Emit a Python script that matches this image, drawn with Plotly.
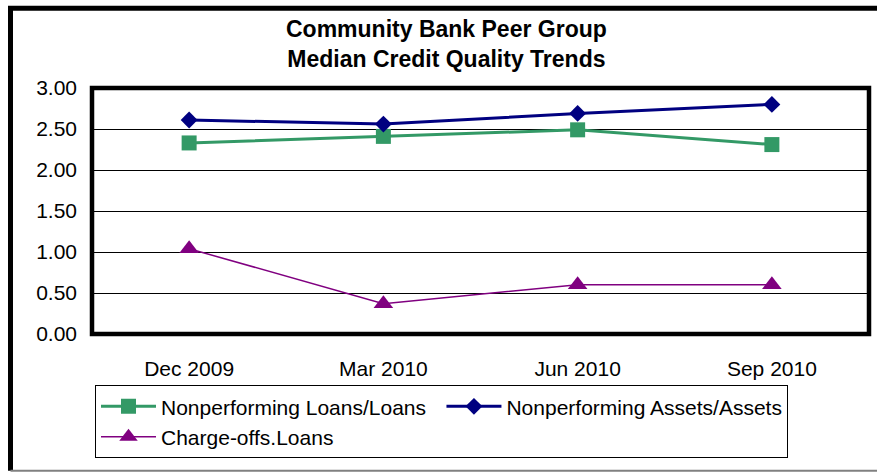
import plotly.graph_objects as go

categories = ["Dec 2009", "Mar 2010", "Jun 2010", "Sep 2010"]
npl_loans = [2.33, 2.41, 2.49, 2.31]
npa_assets = [2.61, 2.56, 2.69, 2.80]
chargeoffs = [1.04, 0.37, 0.60, 0.60]
y_ticks = [0.0, 0.5, 1.0, 1.5, 2.0, 2.5, 3.0]
y_tick_text = ["0.00", "0.50", "1.00", "1.50", "2.00", "2.50", "3.00"]

W, H = 877, 472
L, R, T, B = 92, 869, 88.3, 334.3
FONT = "Arial"


def px(x):
    return (x - L) / (R - L)


def py(y):
    return (B - y) / (B - T)


fig = go.Figure()
fig.add_trace(go.Scatter(
    x=categories, y=npl_loans, name="Nonperforming Loans/Loans",
    mode="lines+markers",
    line=dict(color="#339966", width=3),
    marker=dict(symbol="square", size=15, color="#339966"),
))
fig.add_trace(go.Scatter(
    x=categories, y=npa_assets, name="Nonperforming Assets/Assets",
    mode="lines+markers",
    line=dict(color="#000080", width=3),
    marker=dict(symbol="diamond", size=13, color="#000080"),
))
fig.add_trace(go.Scatter(
    x=categories, y=chargeoffs, name="Charge-offs.Loans",
    mode="lines+markers",
    line=dict(color="#800080", width=1.5),
    marker=dict(symbol="triangle-up", size=17, color="#800080"),
))

fig.update_layout(
    width=W, height=H,
    margin=dict(l=L, r=W - R, t=T, b=H - B, pad=0),
    paper_bgcolor="white", plot_bgcolor="white",
    font=dict(family=FONT, size=21, color="black"),
    showlegend=True,
    legend=dict(
        orientation="h", x=px(95), y=py(385.5), xanchor="left", yanchor="top",
        bordercolor="black", borderwidth=1, bgcolor="white",
        font=dict(family=FONT, size=21, color="black"),
        itemwidth=55, traceorder="normal",
    ),
    xaxis=dict(
        type="category", range=[-0.5, 3.5], showgrid=False, zeroline=False,
        showline=False, ticks="", ticklabelstandoff=20,
        tickfont=dict(family=FONT, size=21, color="black"),
    ),
    yaxis=dict(
        range=[0, 3], tickvals=y_ticks, ticktext=y_tick_text,
        showgrid=True, gridcolor="black", gridwidth=1, zeroline=False,
        showline=False, ticks="", ticklabelstandoff=14,
        tickfont=dict(family=FONT, size=21, color="black"),
    ),
    yaxis2=dict(
        range=[0, 3], tickvals=y_ticks, overlaying="y", side="right",
        showgrid=False, zeroline=False, showline=False, showticklabels=False,
        ticks="outside", ticklen=6, tickcolor="black", tickwidth=1,
    ),
)

# Plot-area frame
fig.add_shape(type="rect", xref="paper", yref="paper", x0=0, x1=1, y0=0, y1=1,
              line=dict(color="black", width=4.5), layer="above")
# Outer chart frame
fig.add_shape(type="line", xref="paper", yref="paper",
              x0=px(10.5), x1=px(10.5), y0=py(8.5), y1=py(471),
              line=dict(color="black", width=5))
fig.add_shape(type="line", xref="paper", yref="paper",
              x0=px(8), x1=px(900), y0=py(8.5), y1=py(8.5),
              line=dict(color="black", width=5))
fig.add_shape(type="line", xref="paper", yref="paper",
              x0=px(10.5), x1=px(900), y0=py(471), y1=py(471),
              line=dict(color="#808080", width=2))

fig.add_annotation(
    text="<b>Community Bank Peer Group<br>Median Credit Quality Trends</b>",
    xref="paper", yref="paper", x=px(446.5), y=py(44.5),
    xanchor="center", yanchor="middle", showarrow=False,
    font=dict(family=FONT, size=23, color="black"),
)

fig.write_html("out.html")
